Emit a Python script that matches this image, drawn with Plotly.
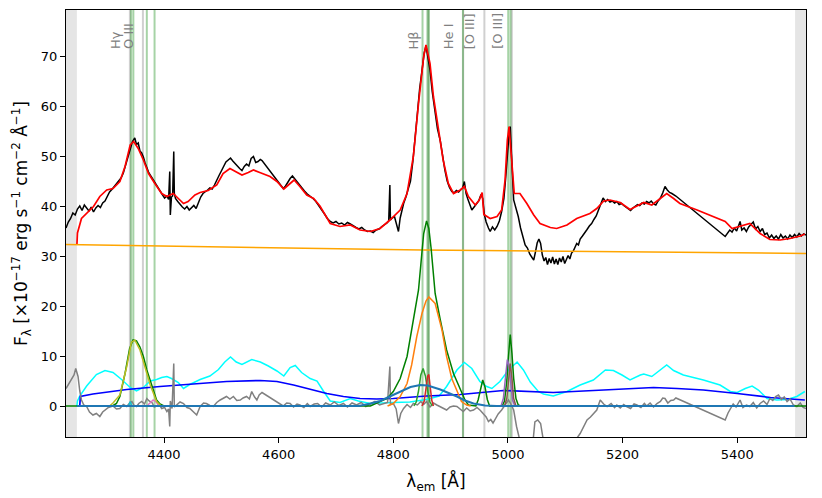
import plotly.graph_objects as go

# ---- observed spectrum (rest frame) ----
wave_obs = [4229, 4233, 4237, 4241, 4245, 4249, 4253, 4257, 4261, 4265, 4269, 4273, 4277, 4281, 4285,
            4289, 4293, 4297, 4301, 4305, 4309, 4313, 4317, 4321, 4325, 4329, 4333, 4337, 4341, 4345,
            4349, 4352, 4355, 4358, 4361, 4364, 4367, 4370, 4373, 4377, 4381, 4385, 4389, 4393, 4397,
            4401, 4405, 4408, 4410, 4411, 4413, 4415, 4417, 4418, 4420, 4424, 4428, 4432, 4436, 4440,
            4444, 4448, 4452, 4456, 4460, 4464, 4468, 4472, 4476, 4480, 4484, 4488, 4492, 4496, 4500,
            4504, 4508, 4512, 4516, 4520, 4524, 4528, 4532, 4536, 4540, 4544, 4548, 4552, 4556, 4560,
            4564, 4568, 4571, 4608, 4612, 4616, 4620, 4624, 4628, 4632, 4636, 4640, 4645, 4650, 4655,
            4660, 4665, 4670, 4675, 4680, 4685, 4690, 4695, 4700, 4705, 4710, 4715, 4720, 4725, 4730,
            4735, 4740, 4745, 4750, 4755, 4760, 4765, 4770, 4775, 4780, 4785, 4789, 4792, 4794, 4795,
            4798, 4802, 4806, 4809, 4812, 4815, 4818, 4822, 4826, 4830, 4834, 4838, 4842, 4846, 4850,
            4854, 4857, 4860, 4864, 4868, 4873, 4877, 4882, 4886, 4890, 4894, 4898, 4902, 4906, 4910,
            4914, 4918, 4921, 4924, 4927, 4930, 4934, 4937, 4941, 4945, 4949, 4953, 4956, 4959, 4962,
            4966, 4969, 4973, 4977, 4981, 4985, 4989, 4993, 4996, 4999, 5002, 5004, 5006, 5008, 5010,
            5014, 5018, 5022, 5026, 5030, 5034, 5038, 5042, 5045, 5048, 5051, 5054, 5057, 5060, 5063,
            5066, 5069, 5072, 5075, 5078, 5081, 5084, 5087, 5090, 5093, 5096, 5099, 5102, 5105, 5108,
            5111, 5114, 5117, 5120, 5123, 5126, 5130, 5134, 5138, 5142, 5146, 5150, 5154, 5158, 5162,
            5166, 5170, 5174, 5178, 5182, 5186, 5190, 5194, 5198, 5202, 5206, 5210, 5214, 5218, 5222,
            5226, 5230, 5234, 5238, 5242, 5246, 5250, 5254, 5258, 5262, 5266, 5270, 5274, 5278, 5282,
            5286, 5290, 5293, 5379, 5383, 5387, 5391, 5395, 5399, 5403, 5405, 5408, 5412, 5416, 5420,
            5424, 5428, 5432, 5436, 5440, 5444, 5448, 5452, 5456, 5460, 5464, 5468, 5472, 5476, 5480,
            5484, 5488, 5492, 5496, 5500, 5504, 5508, 5512, 5516, 5520]
flux_obs = [35.6, 36.8, 37.5, 38.6, 38.2, 39.4, 40.0, 39.1, 40.2, 39.5, 39.0, 39.8, 38.8, 39.6, 40.1,
            39.7, 40.6, 41.0, 41.9, 42.8, 43.3, 43.9, 44.4, 44.9, 45.6, 46.6, 48.3, 49.9, 51.5, 52.9,
            53.6, 52.3, 52.6, 51.0, 50.6, 49.8, 48.6, 47.6, 46.8, 46.0, 45.2, 44.7, 43.9, 42.9, 42.3,
            41.6, 42.0, 41.3, 46.9, 38.2, 41.8, 42.0, 50.9, 42.5, 41.5, 40.9, 40.3, 39.8, 39.4, 39.9,
            39.2, 39.6, 40.1, 39.5, 40.6, 41.8, 42.5, 42.8, 43.2, 43.6, 43.4, 44.2, 45.3, 46.1, 47.0,
            47.8, 48.8, 49.2, 49.6, 49.0, 48.6, 48.0, 47.5, 47.1, 47.9, 48.4, 48.0, 49.5, 49.9, 48.7,
            48.9, 49.3, 49.1, 43.5, 44.0, 44.8, 45.5, 46.0, 45.4, 44.9, 44.3, 43.8, 43.0, 42.4, 42.0,
            41.5, 40.9, 40.1, 39.4, 38.4, 37.5, 36.9, 36.6, 36.9, 36.4, 36.6, 36.2, 36.7, 36.4, 36.0,
            35.7, 35.4, 35.7, 35.2, 34.9, 35.0, 34.7, 35.2, 35.4, 35.9, 36.2, 36.6, 37.0, 44.2, 37.2,
            37.6, 37.9, 36.2, 34.9, 37.6, 39.4, 40.5, 41.8, 43.6, 45.0, 48.8, 53.2, 58.5, 63.5, 67.5,
            70.6, 72.0, 70.0, 67.2, 62.8, 58.5, 55.5, 53.0, 50.0, 47.2, 45.0, 43.7, 42.9, 42.6, 43.1,
            42.8, 43.3, 43.6, 44.9, 42.5, 41.4, 40.1, 39.2, 39.8, 40.3, 41.0, 42.3, 41.5, 38.2, 36.8,
            35.6, 34.9, 35.8, 35.2, 35.9, 37.0, 38.9, 41.5, 45.5, 50.5, 54.5, 55.9, 52.0, 46.0, 41.2,
            39.5, 37.9, 35.6, 34.0, 32.2, 31.6, 30.4, 29.7, 29.2, 30.8, 32.6, 33.4, 32.5, 30.2, 29.0,
            29.7, 28.3, 29.5, 28.6, 29.8, 28.4, 29.4, 28.3, 29.6, 28.8, 29.9, 28.5, 29.3, 30.1, 29.4,
            30.6, 31.0, 31.8, 32.5, 32.2, 33.4, 34.0, 34.8, 35.3, 36.0, 36.5, 37.3, 38.0, 39.2, 40.4,
            41.6, 40.9, 41.3, 40.8, 41.0, 40.6, 40.9, 40.3, 40.5, 40.1, 39.8, 39.4, 39.1, 39.6, 40.0,
            40.3, 40.1, 40.6, 40.4, 40.9, 40.6, 41.0, 40.4, 40.2, 41.0, 41.6, 42.6, 43.9, 43.2, 42.7,
            42.5, 42.3, 42.0, 33.9, 34.6, 35.2, 34.8, 35.6, 35.0, 36.2, 36.9, 35.2, 35.6, 34.9, 35.8,
            36.3, 36.8, 35.4, 35.9, 34.9, 35.5, 34.3, 34.6, 33.6, 34.2, 33.5, 34.0, 33.4, 34.3, 33.6,
            34.0, 33.4, 34.2, 33.7, 34.3, 33.8, 34.5, 34.0, 34.4, 34.2]

# ---- total model ----
wave_model = [4248, 4249, 4256, 4265, 4277, 4288, 4300, 4311, 4323, 4332, 4341, 4347, 4355, 4364, 4373,
              4384, 4396, 4405, 4416, 4425, 4434, 4442, 4454, 4463, 4477, 4492, 4503, 4515, 4524, 4536,
              4547, 4556, 4567, 4585, 4597, 4609, 4620, 4627, 4637, 4649, 4661, 4672, 4690, 4707, 4725,
              4742, 4760, 4777, 4794, 4812, 4824, 4835, 4844, 4853, 4857, 4864, 4870, 4879, 4887, 4896,
              4905, 4917, 4924, 4931, 4943, 4950, 4955, 4958, 4969, 4981, 4989, 4995, 4999, 5002, 5007,
              5011, 5021, 5033, 5045, 5056, 5074, 5085, 5103, 5120, 5143, 5155, 5167, 5178, 5196, 5213,
              5225, 5237, 5251, 5266, 5277, 5289, 5300, 5330, 5358, 5379, 5391, 5405, 5422, 5440, 5457,
              5475, 5492, 5510, 5518]
flux_model = [32.2, 34.6, 37.5, 38.5, 39.9, 41.9, 43.2, 43.5, 44.9, 47.9, 52.2, 52.9, 51.5, 49.2, 46.5,
              44.5, 42.5, 41.9, 42.5, 41.5, 40.5, 40.9, 42.2, 42.7, 43.1, 44.2, 46.5, 47.5, 46.9, 46.2,
              46.7, 47.2, 46.7, 45.9, 44.9, 43.4, 44.5, 45.2, 43.9, 42.2, 41.5, 40.0, 36.5, 35.9, 36.2,
              35.2, 34.9, 35.5, 37.2, 39.2, 42.5, 49.9, 60.5, 69.9, 72.2, 68.5, 61.9, 55.2, 49.2, 44.5,
              42.5, 43.2, 43.9, 41.9, 40.2, 41.2, 42.7, 38.3, 37.5, 37.9, 39.2, 45.2, 53.2, 55.9, 48.5,
              42.5, 42.5, 40.5, 38.2, 36.5, 35.7, 35.5, 36.2, 37.5, 38.5, 39.5, 41.0, 41.2, 40.7, 39.3,
              40.0, 40.7, 40.2, 41.5, 42.5, 41.5, 40.5, 39.2, 37.9, 36.9, 35.5, 35.9, 36.5, 34.5, 33.3,
              33.2, 33.5, 34.0, 34.4]

# ---- power-law continuum ----
wave_pl = [4229, 4850, 5520]
flux_pl = [32.3, 31.2, 30.5]

# ---- Fe II template ----
wave_fe = [4248, 4249, 4253, 4265, 4282, 4297, 4311, 4326, 4341, 4352, 4364, 4376, 4387, 4396, 4405,
           4413, 4425, 4434, 4445, 4463, 4480, 4495, 4506, 4516, 4526, 4536, 4553, 4568, 4582, 4597,
           4609, 4620, 4629, 4640, 4655, 4667, 4678, 4690, 4707, 4725, 4739, 4760, 4800, 4829, 4858,
           4880, 4893, 4911, 4924, 4937, 4951, 4963, 4972, 4986, 5001, 5016, 5027, 5039, 5053, 5062,
           5079, 5103, 5126, 5149, 5170, 5184, 5199, 5213, 5231, 5237, 5251, 5266, 5277, 5289, 5306,
           5341, 5370, 5388, 5400, 5414, 5426, 5437, 5452, 5469, 5487, 5504, 5518]
flux_fe = [0.0, 1.0, 2.0, 4.0, 6.3, 7.1, 6.7, 5.3, 3.7, 3.0, 3.7, 5.0, 5.3, 5.7, 5.9,
           5.5, 4.7, 3.5, 4.3, 5.3, 6.0, 7.3, 8.8, 9.8, 8.8, 8.3, 9.3, 8.8, 8.0, 7.0,
           6.0, 7.7, 8.1, 6.7, 5.5, 5.0, 3.0, 1.0, 0.7, 1.5, 1.0, 0.5, 0.7, 0.8, 1.3,
           2.0, 3.9, 7.2, 8.7, 7.5, 4.9, 3.9, 3.5, 4.9, 7.2, 8.8, 7.2, 4.8, 2.9, 2.4,
           2.0, 2.9, 4.2, 5.2, 7.2, 7.1, 6.2, 5.2, 6.2, 6.4, 5.9, 7.2, 8.2, 7.1, 6.2,
           5.2, 4.2, 2.9, 2.7, 3.5, 4.0, 3.2, 1.5, 1.2, 1.3, 1.9, 2.9]

# ---- Balmer pseudo-continuum ----
wave_bc = [4253, 4254, 4276, 4335, 4393, 4451, 4509, 4568, 4597, 4626, 4655, 4684, 4713, 4742, 4771,
           4800, 4858, 4917, 4992, 5079, 5167, 5254, 5295, 5341, 5400, 5458, 5518]
flux_bc = [0.0, 1.9, 2.4, 3.3, 3.9, 4.4, 4.9, 5.1, 4.9, 4.2, 3.3, 2.5, 1.9, 1.5, 1.4,
           1.5, 2.0, 2.3, 3.1, 2.7, 3.2, 3.7, 3.5, 3.2, 2.5, 1.7, 1.2]

# ---- residual (data - model) ----
wave_res = [4229, 4234, 4239, 4243, 4246, 4250, 4253, 4256, 4260, 4265, 4270, 4276, 4282, 4288, 4293,
            4297, 4303, 4311, 4317, 4323, 4329, 4335, 4340, 4344, 4348, 4352, 4356, 4361, 4366, 4370,
            4374, 4379, 4383, 4387, 4391, 4396, 4401, 4405, 4408, 4410, 4411, 4414, 4417, 4418, 4422,
            4428, 4434, 4440, 4445, 4451, 4457, 4463, 4469, 4474, 4480, 4486, 4492, 4498, 4504, 4509,
            4515, 4521, 4527, 4533, 4538, 4544, 4549, 4553, 4558, 4562, 4566, 4571, 4608, 4614, 4620,
            4626, 4632, 4637, 4644, 4650, 4655, 4662, 4668, 4675, 4682, 4690, 4697, 4705, 4713, 4720,
            4728, 4736, 4744, 4752, 4760, 4768, 4776, 4783, 4790, 4794, 4795, 4800, 4805, 4809, 4813,
            4818, 4824, 4830, 4835, 4842, 4848, 4853, 4858, 4864, 4870, 4876, 4882, 4888, 4893, 4899,
            4905, 4911, 4917, 4922, 4928, 4934, 4940, 4946, 4952, 4957, 4962, 4966, 4970, 4974, 4978,
            4983, 4989, 4995, 5001, 5005, 5010, 5015, 5020, 5028, 5036, 5043, 5047, 5052, 5057, 5062,
            5070, 5080, 5090, 5100, 5110, 5118, 5126, 5132, 5138, 5144, 5149, 5155, 5161, 5167, 5173,
            5180, 5186, 5190, 5196, 5202, 5207, 5214, 5220, 5225, 5232, 5238, 5242, 5248, 5254, 5260,
            5266, 5270, 5274, 5279, 5284, 5289, 5293, 5379, 5384, 5388, 5393, 5398, 5402, 5405, 5410,
            5416, 5422, 5428, 5434, 5440, 5446, 5452, 5457, 5462, 5467, 5472, 5477, 5482, 5487, 5492,
            5498, 5504, 5510, 5515, 5520]
flux_res = [3.5, 4.5, 5.5, 6.2, 7.5, 5.9, 3.0, 1.2, 0.2, -0.1, -1.2, -1.8, -1.5, -2.1, -1.2,
            -0.8, -0.3, 0.0, -0.6, -0.5, 0.3, -0.1, 0.6, 0.9, 0.1, -0.1, 0.5, 0.9, 0.4, 1.5,
            1.0, 0.7, -0.2, 0.0, 0.4, -0.5, -0.3, -1.1, -0.6, -4.1, 1.0, -0.5, 8.5, -0.2, 0.2,
            0.8, 0.5, -0.3, -0.5, -1.2, -1.8, -0.1, 0.6, 0.5, 0.1, -0.1, 0.7, 1.2, 1.6, 1.9,
            1.4, 1.9, 1.1, 1.2, 1.6, 1.9, 1.4, 2.9, 1.8, 1.2, 2.2, 2.7, 0.0, 0.6, 0.5,
            -0.2, 0.4, 0.2, -0.3, 0.5, -0.1, 0.4, 0.5, -0.2, 0.6, 0.2, 0.8, 0.1, 0.5, -0.2,
            0.6, 0.2, 0.7, -0.1, 0.4, 0.9, 0.2, 0.4, 0.7, 7.9, 0.3, 0.5, -0.6, -3.5, -1.5,
            -0.5, 0.3, -0.3, 0.5, 0.2, 0.9, 0.3, 0.9, -0.2, 0.6, 0.2, -0.1, -0.5, -0.8, -0.2,
            0.0, -0.1, -0.6, -1.1, -0.4, -1.0, -0.8, -0.3, -0.9, -1.5, -2.2, -3.1, -2.7, -3.4, -2.5,
            -1.6, -0.8, 0.2, 1.2, 0.4, -0.8, -4.1, -6.5, -8.5, -9.5, -8.0, -3.2, -2.8, -3.5, -7.0,
            -8.0, -7.0, -7.5, -8.0, -7.0, -6.8, -5.5, -4.0, -2.8, -2.2, -1.5, -0.8, 1.2, 0.4, -0.1,
            0.5, -0.3, 0.2, -0.4, 0.3, -0.1, -0.5, 0.4, 0.2, -0.3, 0.5, 0.0, 0.6, -0.2, 0.5,
            0.9, 1.6, 1.5, 0.6, 1.1, 1.2, 1.6, -2.8, -1.4, -0.5, 0.4, -0.2, 0.6, 1.2, -0.3,
            0.2, -0.1, 0.7, -0.4, 0.5, 1.0, 0.3, 1.5, 1.1, 1.9, 2.2, 1.3, 1.8, 0.9, 1.4,
            0.2, -0.1, 0.6, -0.3, -0.5]

# ---- emission line components ----
wave_bl = [4229, 4310, 4317, 4323, 4332, 4340, 4346, 4352, 4358, 4364, 4370, 4376, 4382, 4387, 4393,
           4400, 4760, 4777, 4789, 4800, 4812, 4824, 4835, 4844, 4849, 4853, 4858, 4862, 4866, 4873,
           4882, 4893, 4905, 4917, 4925, 4931, 4940, 4944, 4948, 4952, 4956, 4960, 4964, 4968, 4990,
           4994, 4998, 5001, 5004, 5007, 5010, 5014, 5018, 5022, 5520]
flux_bl = [0.0, 0.0, 0.5, 1.9, 6.5, 11.5, 13.2, 13.0, 11.8, 9.9, 7.2, 5.2, 2.9, 1.2, 0.4,
           0.0, 0.0, 0.9, 1.5, 2.9, 5.5, 9.9, 17.2, 23.2, 29.5, 34.5, 37.0, 35.5, 31.5, 22.5,
           17.2, 11.2, 6.5, 3.2, 1.2, 0.2, 0.0, 0.0, 1.2, 3.5, 5.2, 3.8, 1.3, 0.0, 0.0,
           1.0, 5.0, 10.0, 14.3, 10.5, 5.5, 1.5, 0.2, 0.0, 0.0]

wave_hb2 = [4790, 4800, 4812, 4824, 4832, 4841, 4850, 4857, 4862, 4873, 4885, 4893, 4902, 4911, 4919, 4928, 4935]
flux_hb2 = [0.0, 0.5, 1.9, 4.5, 8.2, 13.9, 18.5, 21.0, 21.8, 20.5, 15.2, 9.9, 5.5, 2.9, 0.9, 0.2, 0.0]

wave_hb3 = [4836, 4840, 4844, 4848, 4852, 4856, 4860, 4864, 4868]
flux_hb3 = [0.0, 0.8, 3.0, 6.2, 7.5, 6.0, 3.0, 0.8, 0.0]

wave_hbn = [4850, 4854, 4857, 4860, 4862, 4864, 4867, 4870]
flux_hbn = [0.0, 1.0, 3.5, 6.0, 6.3, 4.5, 1.2, 0.0]

wave_oiii_w = [4988, 4992, 4996, 4999, 5002, 5005, 5008, 5012]
flux_oiii_w = [0.0, 1.5, 6.0, 9.3, 8.0, 4.5, 1.2, 0.0]

wave_oiii_b = [4994, 4998, 5001, 5004, 5007, 5010, 5014]
flux_oiii_b = [0.0, 1.5, 5.0, 8.5, 5.5, 1.5, 0.0]

wave_hg = [4305, 4311, 4323, 4335, 4343, 4349, 4358, 4367, 4376, 4387, 4395]
flux_hg = [0.0, 0.6, 2.2, 7.9, 12.7, 13.2, 11.2, 7.9, 4.2, 0.9, 0.0]

wave_o4363 = [4370, 4376, 4381, 4386, 4392]
flux_o4363 = [0.0, 0.6, 1.2, 0.8, 0.0]

wave_hgn = [4338, 4341, 4344]
flux_hgn = [0.0, 0.9, 0.0]

wave_bb = [4248, 4740, 4760, 4777, 4790, 4812, 4830, 4847, 4860, 4882, 4900, 4911, 4925, 4940, 4960, 4980, 5500]
flux_bb = [0.0, 0.0, 0.5, 1.0, 1.7, 2.9, 3.8, 4.2, 4.1, 3.3, 2.5, 1.9, 1.1, 0.5, 0.1, 0.0, 0.0]

# ---- line identifications ----
line_names = ["Hγ", "O III", "Hβ", "He I", "[O III]", "[O III]"]
line_waves = [4340.5, 4363.2, 4861.3, 4921.9, 4958.9, 5006.8]
fit_centers = [4342.5, 4346.5, 4370.0, 4383.5, 4851.0, 4859.5, 4862.0, 4921.5, 5000.5, 5004.5]

# masked (not fitted) edges
mask_lo = [4229, 5501]
mask_hi = [4248, 5520]

x_range = [4229, 5520]
y_range = [-6.2, 79.2]

fig = go.Figure()

def add_line(x, y, color, width=1.5):
    fig.add_trace(go.Scatter(x=x, y=y, mode="lines", line=dict(color=color, width=width),
                             hoverinfo="skip", showlegend=False))

add_line(wave_obs, flux_obs, "black", 1.5)
add_line(wave_model, flux_model, "red", 1.7)
add_line(wave_pl, flux_pl, "orange", 1.5)
add_line(wave_fe, flux_fe, "cyan", 1.5)
add_line(wave_bc, flux_bc, "blue", 1.7)
add_line(wave_res, flux_res, "gray", 1.5)
add_line(wave_bl, flux_bl, "green", 1.5)
add_line(wave_hb2, flux_hb2, "#ff7f0e", 1.5)
add_line(wave_hb3, flux_hb3, "#2ca02c", 1.5)
add_line(wave_hbn, flux_hbn, "#d62728", 1.5)
add_line(wave_oiii_w, flux_oiii_w, "#9467bd", 1.5)
add_line(wave_oiii_b, flux_oiii_b, "#8c564b", 1.5)
add_line(wave_o4363, flux_o4363, "#e377c2", 1.5)
add_line(wave_hg, flux_hg, "#bcbd22", 1.5)
add_line(wave_hgn, flux_hgn, "#17becf", 1.5)
add_line(wave_bb, flux_bb, "#1f77b4", 2)

shapes = []
for lo, hi in zip(mask_lo, mask_hi):
    shapes.append(dict(type="rect", xref="x", yref="paper", x0=lo, x1=hi, y0=0, y1=1,
                       fillcolor="#e5e5e5", line=dict(width=0), layer="below"))
for w in line_waves:
    shapes.append(dict(type="line", xref="x", yref="paper", x0=w, x1=w, y0=0, y1=1,
                       line=dict(color="rgba(150,150,150,0.45)", width=2), layer="below"))
for w in fit_centers:
    shapes.append(dict(type="line", xref="x", yref="paper", x0=w, x1=w, y0=0, y1=1,
                       line=dict(color="rgba(0,128,0,0.35)", width=2), layer="below"))

annotations = []
for name, w in zip(line_names, line_waves):
    annotations.append(dict(x=w, y=0.904, xref="x", yref="paper", text=name, textangle=-90,
                            showarrow=False, xanchor="center", yanchor="bottom", xshift=-14,
                            font=dict(size=13, color="gray")))

axis_common = dict(showline=True, linecolor="black", linewidth=1.2, mirror=True,
                   ticks="outside", ticklen=5, tickwidth=1, tickcolor="black",
                   showgrid=False, zeroline=False,
                   tickfont=dict(size=13, color="black", family="DejaVu Sans"))

# page body has an 8px margin, so the figure is shrunk by that much
fig.update_layout(
    width=814, height=490,
    margin=dict(l=58, r=16, t=2, b=61),
    plot_bgcolor="white", paper_bgcolor="white",
    font=dict(family="DejaVu Sans", color="black"),
    shapes=shapes, annotations=annotations,
    xaxis=dict(range=x_range, tickvals=[4400, 4600, 4800, 5000, 5200, 5400],
               title=dict(text="λ<sub>em</sub> [Å]", font=dict(size=17), standoff=14),
               **axis_common),
    yaxis=dict(range=y_range, tickvals=[0, 10, 20, 30, 40, 50, 60, 70],
               title=dict(text="F<sub>λ</sub> [×10<sup>−17</sup> erg s<sup>−1</sup> cm<sup>−2</sup> Å<sup>−1</sup>]",
                          font=dict(size=17), standoff=8),
               **axis_common),
)

fig.write_html("out.html")
